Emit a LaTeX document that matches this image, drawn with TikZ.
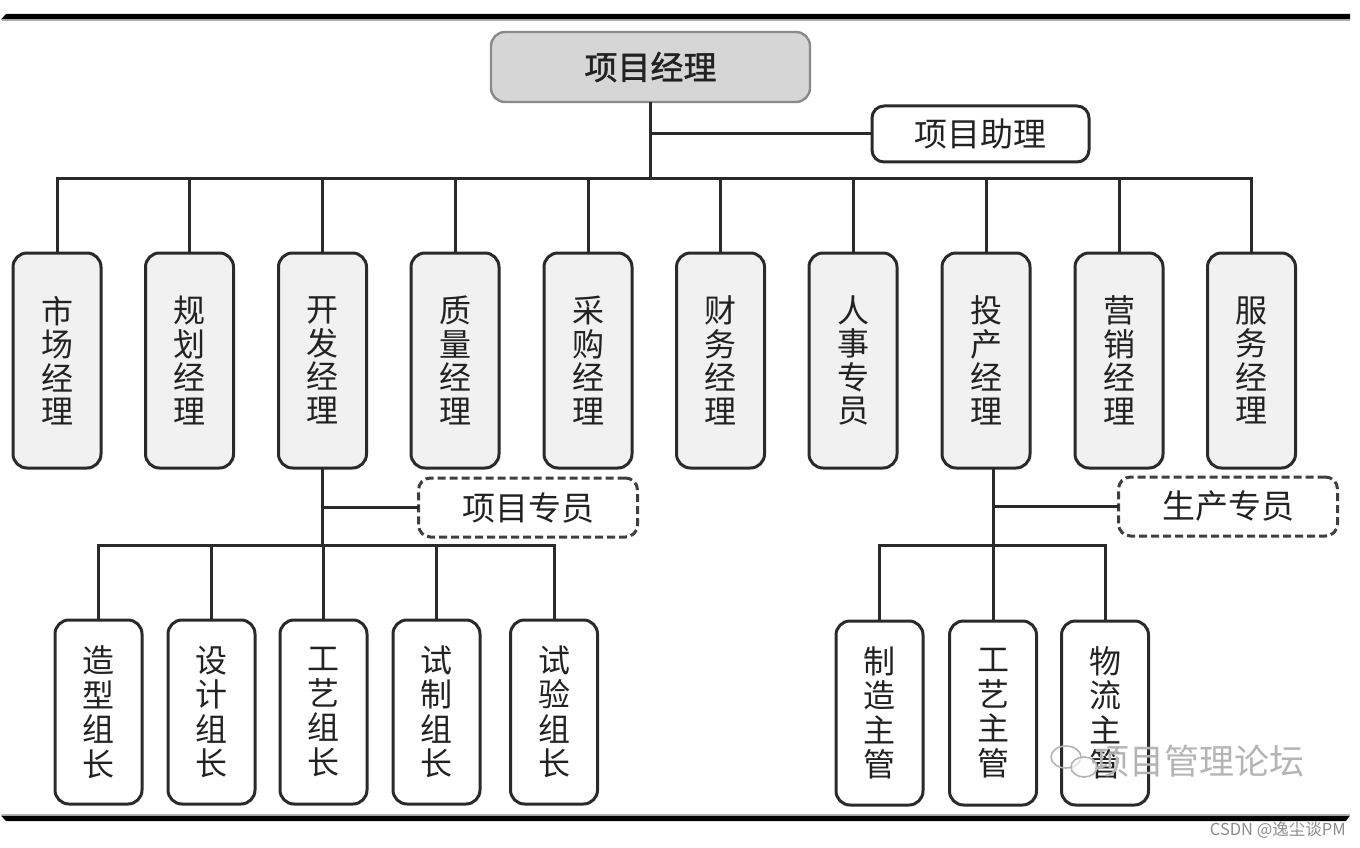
\documentclass[tikz,border=0pt]{standalone}
\usepackage{fontspec}
\newfontfamily\cjk{Noto Sans CJK SC}
\newfontfamily\cjkmb[FakeBold=1.3]{Noto Sans CJK SC}
\definecolor{lineC}{HTML}{2A2A2A}
\definecolor{txtC}{HTML}{222222}
\definecolor{topFill}{HTML}{D6D6D6}
\definecolor{topDraw}{HTML}{8A8A8A}
\definecolor{boxFill}{HTML}{F1F1F1}
\definecolor{wmC}{HTML}{B4B4B4}
\definecolor{creditC}{HTML}{8C8C8C}
\begin{document}
\begin{tikzpicture}[x=1pt,y=-1pt,
  conn/.style={draw=lineC, line width=3pt},
  topbox/.style={draw=topDraw, fill=topFill, line width=2.4pt, rounded corners=14pt,
    minimum width=319pt, minimum height=70pt, inner sep=0pt, outer sep=0pt,
    text=txtC, font=\cjkmb\fontsize{33}{35}\selectfont},
  hbox/.style={draw=lineC, fill=white, line width=3pt, rounded corners=12pt,
    minimum width=217pt, minimum height=56pt, inner sep=0pt, outer sep=0pt,
    text=txtC, font=\cjk\fontsize{33}{35}\selectfont},
  dbox/.style={hbox, dash pattern=on 8pt off 4pt, draw=lineC!90, minimum width=219pt, minimum height=59pt},
  vbox/.style={draw=lineC, fill=boxFill, line width=3pt, rounded corners=14pt,
    minimum width=88pt, minimum height=215pt, inner sep=0pt, outer sep=0pt,
    align=center, text=txtC, font=\cjk\fontsize{32}{33.5}\selectfont},
  lbox/.style={vbox, fill=white, minimum width=87pt, minimum height=184pt,
    font=\cjk\fontsize{32}{34.5}\selectfont}
]
\useasboundingbox (0,0) rectangle (1360,848);

% top and bottom rules
\fill[black] (1,19.5) -- (6,14) -- (1350,14) -- (1350,19.5) -- cycle;
\draw[gray!60, line width=1.2pt] (2,20.5) -- (1350,20.5);
\draw[gray!60, line width=1.2pt] (2,814.5) -- (1350,814.5);
\fill[black] (1,815.5) -- (1350,815.5) -- (1346,821) -- (6,821) -- cycle;

% top level
\node[topbox] (pm) at (650.5,67) {项目经理};
\node[hbox] (assist) at (980.5,134) {项目助理};

% second level
\node[vbox] (b1)  at (57,360.5)   {市\\场\\经\\理};
\node[vbox] (b2)  at (189.5,360.5) {规\\划\\经\\理};
\node[vbox] (b3)  at (322.5,360.5) {开\\发\\经\\理};
\node[vbox] (b4)  at (455,360.5)  {质\\量\\经\\理};
\node[vbox] (b5)  at (588,360.5)  {采\\购\\经\\理};
\node[vbox] (b6)  at (720.5,360.5) {财\\务\\经\\理};
\node[vbox] (b7)  at (853,360.5)  {人\\事\\专\\员};
\node[vbox] (b8)  at (986,360.5)  {投\\产\\经\\理};
\node[vbox] (b9)  at (1119,360.5) {营\\销\\经\\理};
\node[vbox] (b10) at (1251.5,360.5) {服\\务\\经\\理};

% staff boxes
\node[dbox] (zy) at (528,507.5) {项目专员};
\node[dbox] (sc) at (1228,506.5) {生产专员};

% third level left
\node[lbox] (g1) at (98.5,712)  {造\\型\\组\\长};
\node[lbox] (g2) at (211.5,712) {设\\计\\组\\长};
\node[lbox] (g3) at (323.5,712) {工\\艺\\组\\长};
\node[lbox] (g4) at (436.5,712) {试\\制\\组\\长};
\node[lbox] (g5) at (554,712)   {试\\验\\组\\长};

% third level right
\node[lbox] (m1) at (879.5,713) {制\\造\\主\\管};
\node[lbox] (m2) at (993,713)   {工\\艺\\主\\管};
\node[lbox] (m3) at (1105,713)  {物\\流\\主\\管};

% connectors: top
\coordinate (bus) at (651,178);
\draw[conn] (pm.south) -- (pm.south |- bus);
\draw[conn] (pm.south |- assist.west) -- (assist.west);
\draw[conn] (b1.north) -- (b1.north |- bus) -- (b10.north |- bus) -- (b10.north);
\foreach \i in {2,...,9} { \draw[conn] (b\i.north) -- (b\i.north |- bus); }

% connectors: left branch
\coordinate (lbus) at (323,545);
\draw[conn] (b3.south) -- (b3.south |- lbus);
\draw[conn] (b3.south |- zy.west) -- (zy.west);
\draw[conn] (g1.north) -- (g1.north |- lbus) -- (g5.north |- lbus) -- (g5.north);
\foreach \i in {2,3,4} { \draw[conn] (g\i.north) -- (g\i.north |- lbus); }

% connectors: right branch
\coordinate (rbus) at (993,545);
\coordinate (rv) at (b8.south -| m2.north);
\draw[conn] (rv) -- (m2.north);
\draw[conn] (rv |- sc.west) -- (sc.west);
\draw[conn] (m1.north) -- (m1.north |- rbus) -- (m3.north |- rbus) -- (m3.north);

% watermark
\draw[wmC, line width=1.6pt] (1066,757) ellipse [x radius=15pt, y radius=11pt];
\draw[wmC, line width=1.6pt, fill=white, fill opacity=0.6] (1084,767) ellipse [x radius=13pt, y radius=10pt];
\node[text=wmC, font=\cjk\fontsize{35}{37}\selectfont, inner sep=0pt] (wm) at (1199,761) {项目管理论坛};

% credit
\node[anchor=east, text=creditC, font=\cjk\fontsize{16.5}{18}\selectfont, inner sep=0pt] (credit) at (1346,830) {CSDN @逸尘谈PM};
\end{tikzpicture}
\end{document}
